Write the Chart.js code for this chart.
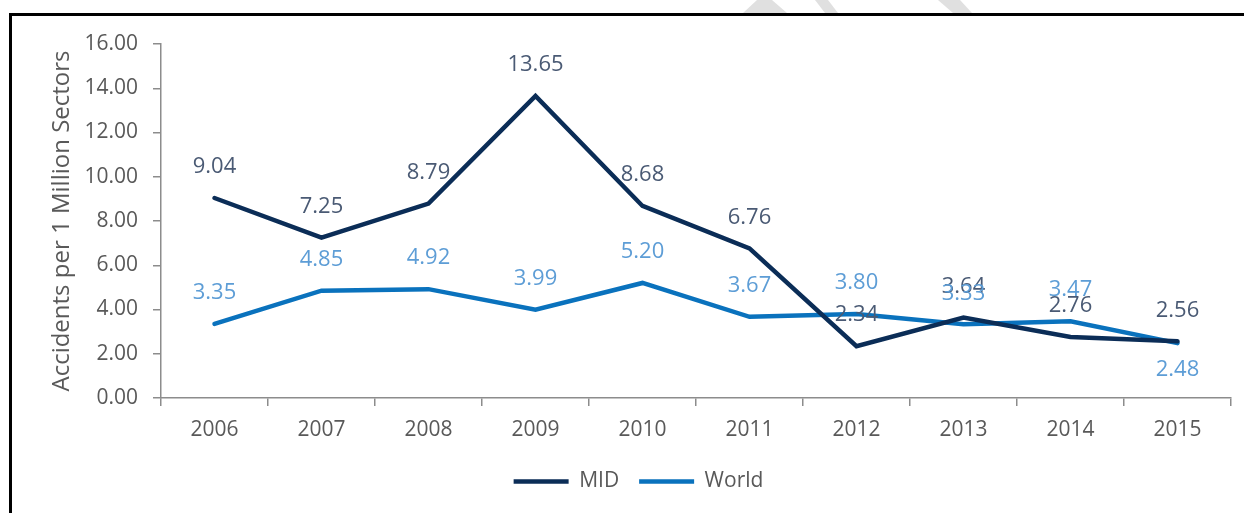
<!DOCTYPE html>
<html>
<head>
<meta charset="utf-8">
<script src="https://cdn.jsdelivr.net/npm/chart.js@4"></script>
<style>
  html, body { margin: 0; padding: 0; background: #fff; }
  #frame {
    position: absolute; left: 9px; top: 13px; width: 1240px; height: 510px;
    border-top: 3px solid #000; border-left: 3px solid #000;
  }
  #marks { position: absolute; left: 0; top: 0; }
  #wrap { position: absolute; left: 0; top: 0; width: 1244px; height: 513px; }
</style>
</head>
<body>
<svg id="marks" width="1244" height="14">
  <polygon points="757,0 772,0 787,13 743,13" fill="#e0e0e0"/>
  <polygon points="815,0 828,0 838,13 825,13" fill="#e0e0e0"/>
  <polygon points="938,0 960,0 972,13 953,13" fill="#e0e0e0"/>
</svg>
<div id="frame"></div>
<div id="wrap"><canvas id="chart" width="1244" height="513"></canvas></div>
<script>
// data
const years = ["2006", "2007", "2008", "2009", "2010", "2011", "2012", "2013", "2014", "2015"];
const midValues = [9.04, 7.25, 8.79, 13.65, 8.68, 6.76, 2.34, 3.64, 2.76, 2.56];
const worldValues = [3.35, 4.85, 4.92, 3.99, 5.20, 3.67, 3.80, 3.33, 3.47, 2.48];
const yTicks = [0, 2, 4, 6, 8, 10, 12, 14, 16];

// which labels sit under their point instead of above
const labelsBelow = { World: [9] };

const FONT = "'Open Sans', 'DejaVu Sans', sans-serif";

// small plugin that writes each value next to its point
const valueLabels = {
  id: "valueLabels",
  afterDatasetsDraw(chart) {
    const ctx = chart.ctx;
    ctx.save();
    ctx.font = "22px " + FONT;
    ctx.textAlign = "center";
    ctx.textBaseline = "middle";
    chart.data.datasets.forEach((ds, i) => {
      const meta = chart.getDatasetMeta(i);
      const below = labelsBelow[ds.label] || [];
      ctx.fillStyle = ds.labelColor;
      meta.data.forEach((pt, j) => {
        const dy = below.includes(j) ? 27 : -31;
        ctx.fillText(ds.data[j].toFixed(2), pt.x, pt.y + dy);
      });
    });
    ctx.restore();
  }
};

new Chart(document.getElementById("chart"), {
  type: "line",
  data: {
    labels: years,
    datasets: [
      {
        label: "MID",
        data: midValues,
        borderColor: "#0b2d57",
        backgroundColor: "#0b2d57",
        labelColor: "#4a5a74",
        borderWidth: 4.5,
        borderCapStyle: "round",
        pointRadius: 0,
        tension: 0
      },
      {
        label: "World",
        data: worldValues,
        borderColor: "#0a72bd",
        backgroundColor: "#0a72bd",
        labelColor: "#5d9dd6",
        borderWidth: 4.5,
        borderCapStyle: "round",
        pointRadius: 0,
        tension: 0
      }
    ]
  },
  options: {
    responsive: false,
    animation: false,
    maintainAspectRatio: false,
    layout: { padding: { top: 44, right: 13, left: 46, bottom: 11 } },
    plugins: {
      tooltip: { enabled: false },
      legend: {
        position: "bottom",
        labels: {
          usePointStyle: true,
          pointStyle: "line",
          pointStyleWidth: 55,
          boxHeight: 4,
          color: "#595959",
          font: { family: FONT, size: 21 },
          padding: 20
        }
      }
    },
    scales: {
      x: {
        offset: true,
        grid: {
          offset: true,
          drawOnChartArea: false,
          tickLength: 8,
          color: "#8c8c8c",
          lineWidth: 1.5
        },
        border: { color: "#8c8c8c", width: 1.5 },
        ticks: {
          color: "#595959",
          font: { family: FONT, size: 21 },
          padding: 11,
          maxRotation: 0
        },
        afterFit(scale) { scale.height = 53; }
      },
      y: {
        min: 0,
        max: 16,
        afterBuildTicks(scale) { scale.ticks = yTicks.map(v => ({ value: v })); },
        grid: {
          drawOnChartArea: false,
          tickLength: 8,
          color: "#8c8c8c",
          lineWidth: 1.5
        },
        border: { color: "#8c8c8c", width: 1.5 },
        ticks: {
          color: "#595959",
          font: { family: FONT, size: 21 },
          padding: 15,
          callback: v => v.toFixed(2)
        },
        title: {
          display: true,
          text: "Accidents per 1 Million Sectors",
          color: "#595959",
          font: { family: FONT, size: 24 },
          padding: { top: 2, bottom: 0 }
        },
        afterFit(scale) { scale.width = 115; }
      }
    }
  },
  plugins: [valueLabels]
});
</script>
</body>
</html>
